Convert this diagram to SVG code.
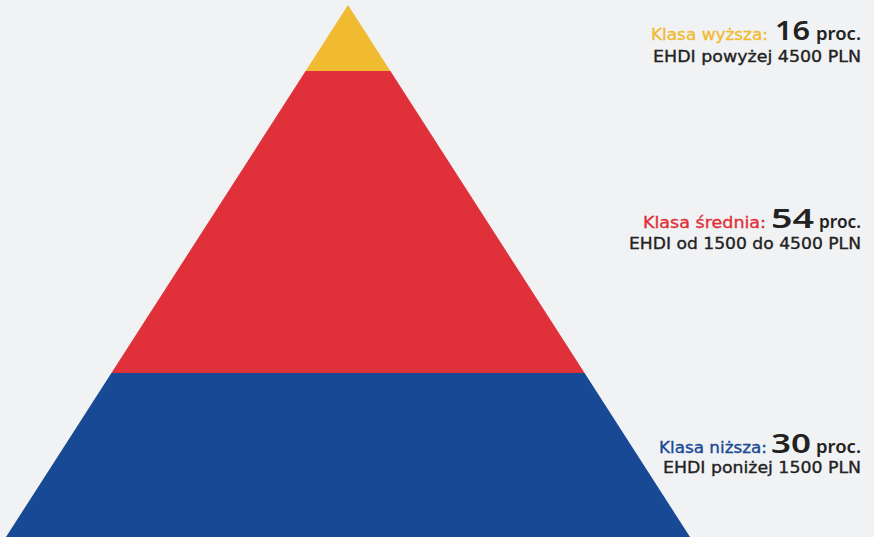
<svg xmlns="http://www.w3.org/2000/svg" width="874" height="537" viewBox="0 0 874 537">
  <style>
    text { font-family: "DejaVu Sans", "Noto Sans", sans-serif; }
    .cls { font-size: 16px; text-anchor: end; stroke-width: 0.35px; }
    .num { font-family: "Noto Sans", "DejaVu Sans", sans-serif; font-size: 26.5px; font-weight: 600; fill: #222222; }
    .pct { font-family: "Noto Sans", "DejaVu Sans", sans-serif; font-size: 17px; font-weight: 600; fill: #222222; text-anchor: end; }
    .sub { font-size: 16px; fill: #222222; stroke: #222222; stroke-width: 0.35px; text-anchor: end; }
  </style>
  <rect width="874" height="537" fill="#f1f2f4"/>

  <!-- pyramid tiers -->
  <g id="tier-top">
    <polygon points="348,5 390.4,71 305.6,71" fill="#f0bb30"/>
  </g>
  <g id="tier-middle">
    <polygon points="305.6,71 390.4,71 584.6,373 111.4,373" fill="#e0303a"/>
  </g>
  <g id="tier-bottom">
    <polygon points="111.4,373 584.6,373 690,537 6,537" fill="#174994"/>
  </g>

  <!-- labels -->
  <g id="label-top">
    <text class="cls" x="768" y="40" fill="#f0bb30" stroke="#f0bb30" textLength="117" lengthAdjust="spacingAndGlyphs">Klasa wyższa:</text>
    <text class="num" x="775" y="40" textLength="35" lengthAdjust="spacingAndGlyphs">16</text>
    <text class="pct" x="861" y="40" textLength="45" lengthAdjust="spacingAndGlyphs">proc.</text>
    <text class="sub" x="861" y="62" textLength="208" lengthAdjust="spacingAndGlyphs">EHDI powyżej 4500 PLN</text>
  </g>
  <g id="label-middle">
    <text class="cls" x="766" y="228" fill="#e0303a" stroke="#e0303a" textLength="123" lengthAdjust="spacingAndGlyphs">Klasa średnia:</text>
    <text class="num" x="771" y="228" textLength="43" lengthAdjust="spacingAndGlyphs">54</text>
    <text class="pct" x="861" y="228" textLength="42" lengthAdjust="spacingAndGlyphs">proc.</text>
    <text class="sub" x="861" y="249" textLength="232" lengthAdjust="spacingAndGlyphs">EHDI od 1500 do 4500 PLN</text>
  </g>
  <g id="label-bottom">
    <text class="cls" x="767" y="453" fill="#174994" stroke="#174994" textLength="108" lengthAdjust="spacingAndGlyphs">Klasa niższa:</text>
    <text class="num" x="771" y="453" textLength="40" lengthAdjust="spacingAndGlyphs">30</text>
    <text class="pct" x="861" y="453" textLength="45" lengthAdjust="spacingAndGlyphs">proc.</text>
    <text class="sub" x="861" y="473" textLength="198" lengthAdjust="spacingAndGlyphs">EHDI poniżej 1500 PLN</text>
  </g>
</svg>
